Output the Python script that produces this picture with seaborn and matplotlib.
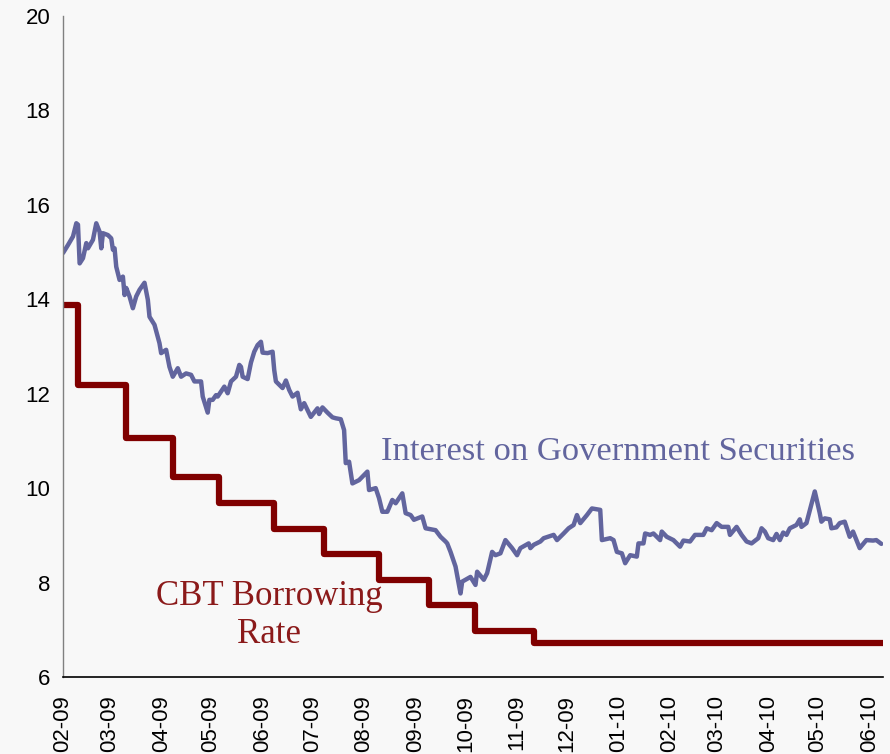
import matplotlib
matplotlib.use("Agg")
import matplotlib.pyplot as plt
import matplotlib.dates as mdates
import pandas as pd
import seaborn as sns

# ---- data ----
gov_dates = [
    "2009-02-10", "2009-02-13", "2009-02-16", "2009-02-18", "2009-02-19", "2009-02-20",
    "2009-02-22", "2009-02-24", "2009-02-25", "2009-02-28", "2009-03-02", "2009-03-04",
    "2009-03-05", "2009-03-06", "2009-03-09", "2009-03-11", "2009-03-12", "2009-03-13",
    "2009-03-14", "2009-03-16", "2009-03-18", "2009-03-19", "2009-03-20", "2009-03-22",
    "2009-03-24", "2009-03-26", "2009-03-28", "2009-03-31", "2009-04-02", "2009-04-03",
    "2009-04-06", "2009-04-09", "2009-04-10", "2009-04-13", "2009-04-15", "2009-04-17",
    "2009-04-20", "2009-04-22", "2009-04-25", "2009-04-28", "2009-04-30", "2009-05-04",
    "2009-05-05", "2009-05-08", "2009-05-09", "2009-05-11", "2009-05-13", "2009-05-14",
    "2009-05-18", "2009-05-20", "2009-05-22", "2009-05-25", "2009-05-27", "2009-05-28",
    "2009-05-29", "2009-06-01", "2009-06-03", "2009-06-05", "2009-06-07", "2009-06-09",
    "2009-06-10", "2009-06-13", "2009-06-16", "2009-06-17", "2009-06-18", "2009-06-22",
    "2009-06-24", "2009-06-26", "2009-06-28", "2009-07-01", "2009-07-03", "2009-07-05",
    "2009-07-09", "2009-07-13", "2009-07-14", "2009-07-16", "2009-07-19", "2009-07-22",
    "2009-07-24", "2009-07-27", "2009-07-29", "2009-07-30", "2009-08-01", "2009-08-03",
    "2009-08-07", "2009-08-12", "2009-08-13", "2009-08-17", "2009-08-19", "2009-08-21",
    "2009-08-24", "2009-08-27", "2009-08-29", "2009-09-02", "2009-09-04", "2009-09-07",
    "2009-09-09", "2009-09-14", "2009-09-16", "2009-09-22", "2009-09-25", "2009-09-28",
    "2009-09-29", "2009-10-01", "2009-10-04", "2009-10-07", "2009-10-08", "2009-10-13",
    "2009-10-16", "2009-10-17", "2009-10-21", "2009-10-23", "2009-10-26", "2009-10-28",
    "2009-10-31", "2009-11-03", "2009-11-07", "2009-11-10", "2009-11-12", "2009-11-17",
    "2009-11-18", "2009-11-20", "2009-11-24", "2009-11-26", "2009-12-02", "2009-12-04",
    "2009-12-08", "2009-12-11", "2009-12-14", "2009-12-16", "2009-12-18", "2009-12-22",
    "2009-12-25", "2009-12-30", "2009-12-31", "2010-01-05", "2010-01-07", "2010-01-09",
    "2010-01-12", "2010-01-14", "2010-01-17", "2010-01-21", "2010-01-22", "2010-01-25",
    "2010-01-26", "2010-01-29", "2010-01-31", "2010-02-02", "2010-02-04", "2010-02-05",
    "2010-02-08", "2010-02-12", "2010-02-16", "2010-02-18", "2010-02-22", "2010-02-25",
    "2010-03-02", "2010-03-04", "2010-03-07", "2010-03-10", "2010-03-13", "2010-03-17",
    "2010-03-18", "2010-03-22", "2010-03-25", "2010-03-28", "2010-03-31", "2010-04-04",
    "2010-04-06", "2010-04-08", "2010-04-10", "2010-04-13", "2010-04-15", "2010-04-17",
    "2010-04-19", "2010-04-21", "2010-04-23", "2010-04-27", "2010-04-29", "2010-04-30",
    "2010-05-03", "2010-05-08", "2010-05-11", "2010-05-12", "2010-05-14", "2010-05-17",
    "2010-05-18", "2010-05-21", "2010-05-23", "2010-05-26", "2010-05-29", "2010-05-31",
    "2010-06-04", "2010-06-08", "2010-06-12", "2010-06-14", "2010-06-17",
]
gov_rate = [
    14.98, 15.15, 15.33, 15.61, 15.58, 14.76,
    14.87, 15.19, 15.08, 15.26, 15.61, 15.43,
    15.08, 15.40, 15.36, 15.29, 15.05, 15.08,
    14.69, 14.41, 14.48, 14.09, 14.24, 14.06,
    13.81, 14.06, 14.20, 14.35, 13.99, 13.63,
    13.46, 13.07, 12.86, 12.93, 12.57, 12.36,
    12.54, 12.36, 12.43, 12.40, 12.26, 12.26,
    11.94, 11.60, 11.87, 11.87, 11.97, 11.94,
    12.15, 12.01, 12.26, 12.36, 12.61, 12.57,
    12.36, 12.31, 12.66, 12.89, 13.03, 13.10,
    12.87, 12.86, 12.89, 12.50, 12.26, 12.12,
    12.28, 12.08, 11.94, 12.02, 11.67, 11.80,
    11.51, 11.69, 11.57, 11.71, 11.60, 11.50,
    11.48, 11.46, 11.23, 10.53, 10.56, 10.10,
    10.17, 10.35, 9.96, 10.00, 9.79, 9.50,
    9.50, 9.75, 9.68, 9.89, 9.47, 9.43,
    9.33, 9.40, 9.15, 9.11, 8.97, 8.87,
    8.83, 8.65, 8.34, 7.77, 8.02, 8.12,
    7.95, 8.23, 8.06, 8.20, 8.65, 8.58,
    8.62, 8.90, 8.73, 8.58, 8.73, 8.83,
    8.73, 8.80, 8.87, 8.94, 9.01, 8.90,
    9.04, 9.15, 9.22, 9.43, 9.26, 9.43,
    9.57, 9.54, 8.90, 8.94, 8.90, 8.65,
    8.62, 8.41, 8.58, 8.55, 8.83, 8.83,
    9.04, 9.01, 9.04, 8.97, 8.90, 9.08,
    8.97, 8.90, 8.76, 8.89, 8.87, 9.01,
    9.01, 9.15, 9.11, 9.26, 9.18, 9.18,
    9.01, 9.18, 9.01, 8.87, 8.83, 8.94,
    9.15, 9.08, 8.94, 8.90, 9.03, 8.90,
    9.06, 9.01, 9.15, 9.22, 9.34, 9.18,
    9.26, 9.93, 9.47, 9.29, 9.36, 9.34,
    9.15, 9.17, 9.26, 9.29, 8.97, 9.08,
    8.73, 8.90, 8.89, 8.90, 8.82,
]

cbt_dates = [
    "2009-02-10", "2009-02-19", "2009-03-20", "2009-04-17", "2009-05-15", "2009-06-17",
    "2009-07-17", "2009-08-19", "2009-09-18", "2009-10-16", "2009-11-20", "2010-06-18",
]
cbt_rate = [13.88, 12.19, 11.07, 10.24, 9.69, 9.14, 8.60, 8.06, 7.52, 6.98, 6.71, 6.71]

y_ticks = [6, 8, 10, 12, 14, 16, 18, 20]

gov_label = "Interest on Government Securities"
cbt_label = "CBT Borrowing\nRate"

# ---- build frames ----
gov_df = pd.DataFrame({"date": pd.to_datetime(gov_dates), "rate": gov_rate})
cbt_df = pd.DataFrame({"date": pd.to_datetime(cbt_dates), "rate": cbt_rate})

BG = "#F8F8F8"
BLUE = "#62659E"
RED = "#800000"

sns.set_theme(style="white")
plt.rcParams["font.family"] = ["Liberation Sans", "DejaVu Sans"]

fig = plt.figure(figsize=(8.9, 7.54), dpi=100, facecolor=BG)
ax = fig.add_axes([0.0708, 0.1021, 0.9213, 0.8767])
ax.set_facecolor(BG)

sns.lineplot(data=gov_df, x="date", y="rate", ax=ax, color=BLUE,
             linewidth=3.2, estimator=None, sort=False)
sns.lineplot(data=cbt_df, x="date", y="rate", ax=ax, color=RED,
             linewidth=4.5, estimator=None, sort=False, drawstyle="steps-post")

ax.set_xlim(pd.Timestamp("2009-02-10"), pd.Timestamp("2010-06-18"))
ax.set_ylim(6, 20)
ax.set_yticks(y_ticks)
ax.set_xlabel("")
ax.set_ylabel("")

ax.xaxis.set_major_locator(mdates.MonthLocator(bymonthday=10))
ax.xaxis.set_major_formatter(mdates.DateFormatter("%m-%y"))

for lbl in ax.get_xticklabels():
    lbl.set_rotation(90)

ax.tick_params(axis="both", which="major", labelsize=16, labelcolor="black",
               direction="out", length=6, width=1)
ax.tick_params(axis="y", colors="#707070", labelcolor="black", pad=3)
ax.tick_params(axis="x", colors="black", labelcolor="black", pad=7)

for side in ("top", "right"):
    ax.spines[side].set_visible(False)
ax.spines["left"].set_color("#808080")
ax.spines["left"].set_linewidth(1)
ax.spines["bottom"].set_color("black")
ax.spines["bottom"].set_linewidth(1.2)
ax.grid(False)

ax.text(pd.Timestamp("2009-08-20"), 10.6, gov_label, color=BLUE,
        fontsize=24.8, family=["Liberation Serif", "DejaVu Serif"],
        ha="left", va="baseline")
ax.text(pd.Timestamp("2009-06-14"), 7.3, cbt_label, color="#8B1A1A",
        fontsize=25, family=["Liberation Serif", "DejaVu Serif"],
        ha="center", va="center", linespacing=1.2, multialignment="center")

fig.savefig("out.png", dpi=100, facecolor=BG)
